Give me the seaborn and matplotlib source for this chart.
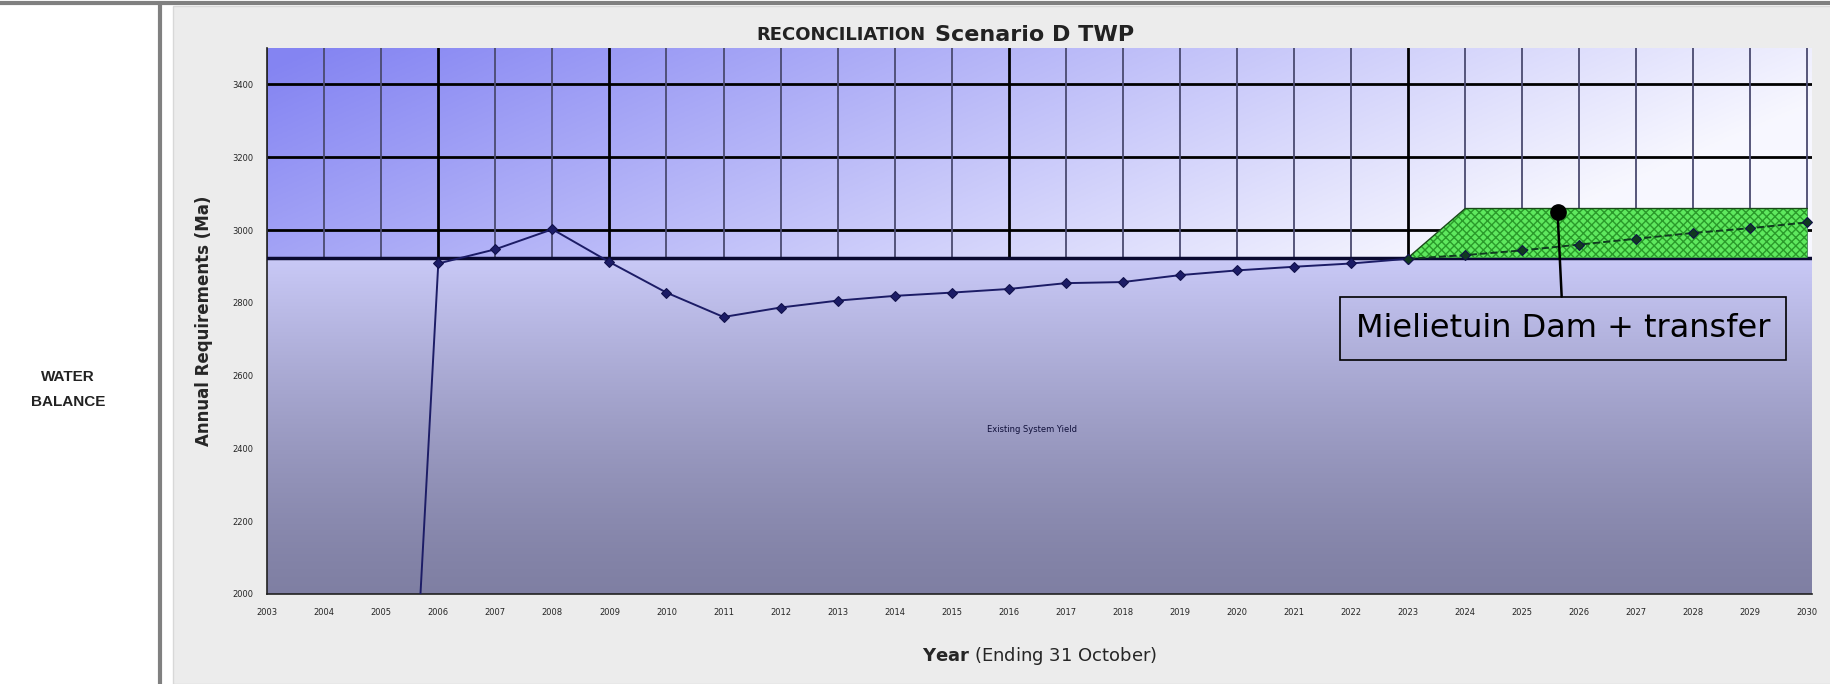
import numpy as np
import pandas as pd
import seaborn as sns
import matplotlib.pyplot as plt
from matplotlib.patches import Rectangle
from matplotlib.lines import Line2D

# values
years = list(range(2005, 2031))
demand = [0, 2908, 2947, 3002, 2912, 2828, 2761, 2787, 2806, 2819,
          2828, 2838, 2854, 2857, 2876, 2889, 2899, 2908, 2921, 2931,
          2944, 2960, 2976, 2992, 3005, 3021]
system_yield = 2924
transfer_years = list(range(2023, 2031))
transfer_extra = [0, 135, 135, 135, 135, 135, 135, 135]
tick_years = list(range(2003, 2031))
y_ticks = [2000, 2200, 2400, 2600, 2800, 3000, 3200, 3400]
major_years = [2006, 2009, 2016, 2023]

sns.set_style("white")
plt.rcParams['font.family'] = ['DejaVu Sans']

fig = plt.figure(figsize=(18.31, 6.84), dpi=100)
fig.patch.set_facecolor('white')

# grey chart panel + frame lines
panel = Rectangle((0.0945, 0.0), 0.9055, 0.991, transform=fig.transFigure,
                  facecolor='#ececec', edgecolor='#d8d8d8', lw=1, zorder=-10)
fig.add_artist(panel)
fig.add_artist(Line2D([0.0874, 0.0874], [0, 0.995], transform=fig.transFigure, color='#808080', lw=3, zorder=-5))
fig.add_artist(Line2D([0, 1], [0.995, 0.995], transform=fig.transFigure, color='#808080', lw=3, zorder=-5))

fig.text(0.037, 0.431, "WATER\nBALANCE", ha='center', va='center', fontsize=11,
         fontweight='bold', family='Liberation Sans', color='#222222', linespacing=2.0)

ax = fig.add_axes([0.1459, 0.1316, 0.8437, 0.7982])
x0, x1 = tick_years[0], tick_years[-1] + 0.08
y0, y1 = 2000, 3500

# blue gradient background above the yield
u = np.linspace(0, 1, 300)[None, :]
v = np.linspace(0, 1, 200)[:, None]
a = np.clip((1 - u) * 0.95 + v * 0.3 - 0.22, 0, 1)
blue = np.array([0.52, 0.52, 0.95])
bg = (1 - a[..., None]) * np.array([0.97, 0.97, 1.0]) + a[..., None] * blue
ax.imshow(bg, extent=(x0, x1, system_yield, y1), origin='lower', aspect='auto', zorder=0)

# grid
for yt in y_ticks:
    ax.axhline(yt, color='black', lw=2, zorder=1)
for xt in tick_years:
    if xt in major_years:
        ax.axvline(xt, color='black', lw=2, zorder=1)
    else:
        ax.axvline(xt, color='#4a4a70', lw=1.3, zorder=1)

# existing system yield area (vertical gradient)
g = np.linspace(0, 1, 200)[:, None, None] ** 1.3
top_c = np.array([0.79, 0.79, 0.97])
bot_c = np.array([0.50, 0.50, 0.64])
grad = bot_c * (1 - g) + top_c * g
grad = np.repeat(grad, 2, axis=1)
ax.imshow(grad, extent=(x0, x1, y0, system_yield), origin='lower', aspect='auto', zorder=2)
ax.axhline(system_yield, color='#0a0a30', lw=2.5, zorder=3)

# Mielietuin transfer block
base = np.full(len(transfer_years), system_yield)
top = base + np.array(transfer_extra)
ax.fill_between(transfer_years, base, top, facecolor='#5ee85e', edgecolor='#2a9a2a',
                hatch='xxxx', lw=0, zorder=3)
ax.plot(transfer_years, top, color='#1a4a1a', lw=1, zorder=3)

# requirement line
df = pd.DataFrame({'Year': years, 'Demand': demand})
sns.lineplot(data=df[df['Year'] <= 2023], x='Year', y='Demand', ax=ax, color='#1c1c66',
             lw=1.4, marker='D', markersize=5, markeredgecolor='#10104a', zorder=4)
sns.lineplot(data=df[df['Year'] >= 2023], x='Year', y='Demand', ax=ax, color='#103a20',
             lw=1.4, linestyle='--', marker='D', markersize=5, markeredgecolor='#10104a', zorder=4)

ax.text(2016.4, 2453, "Existing System Yield", fontsize=6, ha='center', va='center',
        color='#10103a', zorder=5)

ax.annotate("Mielietuin Dam + transfer", xy=(2025.62, 3050), xytext=(2025.72, 2729),
            fontsize=23, ha='center', va='center', color='black', zorder=6,
            bbox=dict(boxstyle='square,pad=0.5', fc='none', ec='black', lw=1.2),
            arrowprops=dict(arrowstyle='-', color='black', lw=1.8, shrinkA=0, shrinkB=0))
ax.plot([2025.62], [3050], 'o', color='black', markersize=11, zorder=7)

ax.set_xlim(x0, x1)
ax.set_ylim(y0, y1)
ax.set_xticks(tick_years)
ax.set_xticklabels([str(t) for t in tick_years], fontsize=6)
ax.set_yticks(y_ticks)
ax.set_yticklabels([str(t) for t in y_ticks], fontsize=6)
ax.tick_params(axis='both', direction='out', length=4, width=1, color='#222222', pad=6)
ax.set_xlabel(r"$\bf{Year}$ (Ending 31 October)", fontsize=13, labelpad=20)
ax.set_ylabel("Annual Requirements (Ma)", fontsize=12, fontweight='bold', labelpad=14)
for s in ['top', 'right']:
    ax.spines[s].set_visible(False)
for s in ['left', 'bottom']:
    ax.spines[s].set_color('#222222')
    ax.spines[s].set_linewidth(1.2)

fig.text(0.5057, 0.949, "RECONCILIATION", ha='right', va='center', fontsize=13,
         fontweight='bold', color='#222222')
fig.text(0.5105, 0.949, "Scenario D TWP", ha='left', va='center', fontsize=16,
         fontweight='bold', color='#222222')

fig.savefig('out.png', dpi=100)
